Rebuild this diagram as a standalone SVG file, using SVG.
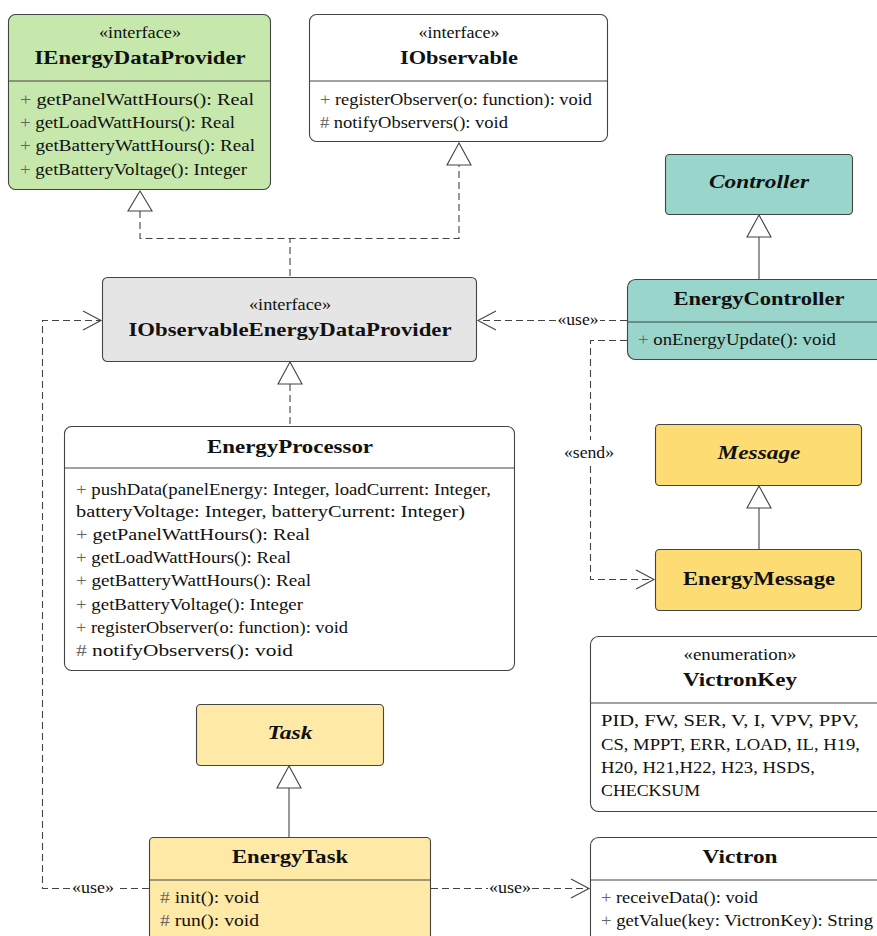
<svg xmlns="http://www.w3.org/2000/svg" width="877" height="936" viewBox="0 0 877 936" font-family="'Liberation Serif', 'Times New Roman', 'DejaVu Serif', serif">
  <style>
    text { fill: #111; }
    .box { stroke: #444; stroke-width: 1.1; }
    .div { stroke: #444; stroke-width: 1.1; }
    .st { font-size: 16px; text-anchor: middle; }
    .nm { font-size: 19px; font-weight: bold; text-anchor: middle; }
    .ab { font-size: 19px; font-weight: bold; font-style: italic; text-anchor: middle; }
    .mb { font-size: 16.5px; }
    .op { fill: #666; }
    .lbl { font-size: 16px; text-anchor: middle; }
    .dash { fill: none; stroke: #444; stroke-width: 1.1; stroke-dasharray: 7 4; }
    .solid { fill: none; stroke: #444; stroke-width: 1.1; }
    .tri { fill: #fff; stroke: #444; stroke-width: 1.1; }
    .open { fill: none; stroke: #444; stroke-width: 1.1; }
  </style>

  <g id="IEnergyDataProvider">
    <rect class="box" x="8.5" y="14.5" width="262" height="175" rx="7" fill="#c6e8ad"/>
    <line class="div" x1="8.5" y1="81" x2="270.5" y2="81"/>
    <text class="st" x="140" y="38" textLength="82" lengthAdjust="spacingAndGlyphs">«interface»</text>
    <text class="nm" x="140" y="64" textLength="211" lengthAdjust="spacingAndGlyphs">IEnergyDataProvider</text>
    <text class="mb" x="20" y="105" textLength="234" lengthAdjust="spacingAndGlyphs"><tspan class="op">+</tspan> getPanelWattHours(): Real</text>
    <text class="mb" x="20" y="128" textLength="215" lengthAdjust="spacingAndGlyphs"><tspan class="op">+</tspan> getLoadWattHours(): Real</text>
    <text class="mb" x="20" y="151" textLength="235" lengthAdjust="spacingAndGlyphs"><tspan class="op">+</tspan> getBatteryWattHours(): Real</text>
    <text class="mb" x="20" y="175" textLength="227" lengthAdjust="spacingAndGlyphs"><tspan class="op">+</tspan> getBatteryVoltage(): Integer</text>
  </g>

  <g id="IObservable">
    <rect class="box" x="309.5" y="14.5" width="298" height="127" rx="7" fill="#fff"/>
    <line class="div" x1="309.5" y1="81" x2="607.5" y2="81"/>
    <text class="st" x="459" y="38" textLength="81" lengthAdjust="spacingAndGlyphs">«interface»</text>
    <text class="nm" x="459" y="64" textLength="118" lengthAdjust="spacingAndGlyphs">IObservable</text>
    <text class="mb" x="320" y="105" textLength="272" lengthAdjust="spacingAndGlyphs"><tspan class="op">+</tspan> registerObserver(o: function): void</text>
    <text class="mb" x="320" y="128" textLength="188" lengthAdjust="spacingAndGlyphs"><tspan class="op">#</tspan> notifyObservers(): void</text>
  </g>

  <g id="IObservableEnergyDataProvider">
    <rect class="box" x="102.5" y="277.5" width="374" height="84" rx="5" fill="#e5e5e5"/>
    <text class="st" x="290" y="310" textLength="82" lengthAdjust="spacingAndGlyphs">«interface»</text>
    <text class="nm" x="290" y="336" textLength="323" lengthAdjust="spacingAndGlyphs">IObservableEnergyDataProvider</text>
  </g>

  <g id="EnergyProcessor">
    <rect class="box" x="64.5" y="426.5" width="450" height="244" rx="7" fill="#fff"/>
    <line class="div" x1="64.5" y1="468" x2="514.5" y2="468"/>
    <text class="nm" x="290" y="453" textLength="166" lengthAdjust="spacingAndGlyphs">EnergyProcessor</text>
    <text class="mb" x="76" y="495" textLength="415" lengthAdjust="spacingAndGlyphs"><tspan class="op">+</tspan> pushData(panelEnergy: Integer, loadCurrent: Integer,</text>
    <text class="mb" x="76" y="517" textLength="389" lengthAdjust="spacingAndGlyphs">batteryVoltage: Integer, batteryCurrent: Integer)</text>
    <text class="mb" x="76" y="540" textLength="234" lengthAdjust="spacingAndGlyphs"><tspan class="op">+</tspan> getPanelWattHours(): Real</text>
    <text class="mb" x="76" y="563" textLength="215" lengthAdjust="spacingAndGlyphs"><tspan class="op">+</tspan> getLoadWattHours(): Real</text>
    <text class="mb" x="76" y="586" textLength="235" lengthAdjust="spacingAndGlyphs"><tspan class="op">+</tspan> getBatteryWattHours(): Real</text>
    <text class="mb" x="76" y="610" textLength="227" lengthAdjust="spacingAndGlyphs"><tspan class="op">+</tspan> getBatteryVoltage(): Integer</text>
    <text class="mb" x="76" y="633" textLength="272" lengthAdjust="spacingAndGlyphs"><tspan class="op">+</tspan> registerObserver(o: function): void</text>
    <text class="mb" x="76" y="656" textLength="217" lengthAdjust="spacingAndGlyphs"><tspan class="op">#</tspan> notifyObservers(): void</text>
  </g>

  <g id="Controller">
    <rect class="box" x="665.5" y="154.5" width="187" height="60" rx="4" fill="#99d5ca"/>
    <text class="ab" x="759" y="188" textLength="100" lengthAdjust="spacingAndGlyphs">Controller</text>
  </g>

  <g id="EnergyController">
    <rect class="box" x="627.5" y="279.5" width="260" height="80" rx="8" fill="#99d5ca"/>
    <line class="div" x1="627.5" y1="322" x2="877" y2="322"/>
    <text class="nm" x="759" y="305" textLength="171" lengthAdjust="spacingAndGlyphs">EnergyController</text>
    <text class="mb" x="638" y="345" textLength="198" lengthAdjust="spacingAndGlyphs"><tspan class="op">+</tspan> onEnergyUpdate(): void</text>
  </g>

  <g id="Message">
    <rect class="box" x="655.5" y="424.5" width="206" height="61" rx="4" fill="#fddc74"/>
    <text class="ab" x="759" y="459" textLength="83" lengthAdjust="spacingAndGlyphs">Message</text>
  </g>

  <g id="EnergyMessage">
    <rect class="box" x="655.5" y="549.5" width="206" height="61" rx="4" fill="#fddc74"/>
    <text class="nm" x="759" y="585" textLength="152" lengthAdjust="spacingAndGlyphs">EnergyMessage</text>
  </g>

  <g id="VictronKey">
    <rect class="box" x="590.5" y="636.5" width="300" height="175" rx="8" fill="#fff"/>
    <line class="div" x1="590.5" y1="703" x2="877" y2="703"/>
    <text class="st" x="740" y="660" textLength="113" lengthAdjust="spacingAndGlyphs">«enumeration»</text>
    <text class="nm" x="740" y="686" textLength="114" lengthAdjust="spacingAndGlyphs">VictronKey</text>
    <text class="mb" x="601" y="726" textLength="258" lengthAdjust="spacingAndGlyphs">PID, FW, SER, V, I, VPV, PPV,</text>
    <text class="mb" x="601" y="750" textLength="259" lengthAdjust="spacingAndGlyphs">CS, MPPT, ERR, LOAD, IL, H19,</text>
    <text class="mb" x="601" y="773" textLength="214" lengthAdjust="spacingAndGlyphs">H20, H21,H22, H23, HSDS,</text>
    <text class="mb" x="601" y="796" textLength="99" lengthAdjust="spacingAndGlyphs">CHECKSUM</text>
  </g>

  <g id="Victron">
    <rect class="box" x="590.5" y="837.5" width="300" height="120" rx="8" fill="#fff"/>
    <line class="div" x1="590.5" y1="880" x2="877" y2="880"/>
    <text class="nm" x="740" y="863" textLength="75" lengthAdjust="spacingAndGlyphs">Victron</text>
    <text class="mb" x="601" y="903" textLength="157" lengthAdjust="spacingAndGlyphs"><tspan class="op">+</tspan> receiveData(): void</text>
    <text class="mb" x="601" y="926" textLength="272" lengthAdjust="spacingAndGlyphs"><tspan class="op">+</tspan> getValue(key: VictronKey): String</text>
  </g>

  <g id="Task">
    <rect class="box" x="196.5" y="704.5" width="187" height="61" rx="4" fill="#feeaa6"/>
    <text class="ab" x="290" y="739" textLength="45" lengthAdjust="spacingAndGlyphs">Task</text>
  </g>

  <g id="EnergyTask">
    <rect class="box" x="149.5" y="837.5" width="281" height="120" rx="4" fill="#feeaa6"/>
    <line class="div" x1="149.5" y1="880" x2="430.5" y2="880"/>
    <text class="nm" x="290" y="863" textLength="116" lengthAdjust="spacingAndGlyphs">EnergyTask</text>
    <text class="mb" x="160" y="903" textLength="99" lengthAdjust="spacingAndGlyphs"><tspan class="op">#</tspan> init(): void</text>
    <text class="mb" x="160" y="926" textLength="99" lengthAdjust="spacingAndGlyphs"><tspan class="op">#</tspan> run(): void</text>
  </g>

  <g id="connectors">
    <!-- realizations into IEnergyDataProvider and IObservable -->
    <path class="dash" d="M290,276 V238.5 M140,211 V238.5 H459 V165"/>
    <polygon class="tri" points="140,191 128,211 152,211"/>
    <polygon class="tri" points="459,143 447,165 471,165"/>

    <!-- EnergyProcessor realizes IObservableEnergyDataProvider -->
    <path class="dash" d="M290,384 V426"/>
    <polygon class="tri" points="290,362 278,384 302,384"/>

    <!-- EnergyController extends Controller -->
    <path class="solid" d="M759,237 V279"/>
    <polygon class="tri" points="759,215 747,237 771,237"/>

    <!-- EnergyMessage extends Message -->
    <path class="solid" d="M759,508 V549"/>
    <polygon class="tri" points="759,486 747,508 771,508"/>

    <!-- EnergyTask extends Task -->
    <path class="solid" d="M289,788 V837"/>
    <polygon class="tri" points="289,766 277,788 301,788"/>

    <!-- EnergyController uses IObservableEnergyDataProvider -->
    <path class="dash" d="M627,320.5 H600 M556,320.5 H478"/>
    <path class="open" d="M496,311 L478,320.5 L496,330"/>
    <text class="lbl" x="578" y="325" textLength="41" lengthAdjust="spacingAndGlyphs">«use»</text>

    <!-- EnergyController sends EnergyMessage -->
    <path class="dash" d="M627,340.5 H590.5 V440 M590.5,466 V579.5 H654"/>
    <path class="open" d="M636,570 L654,579.5 L636,589"/>
    <text class="lbl" x="589" y="458" textLength="50" lengthAdjust="spacingAndGlyphs">«send»</text>

    <!-- EnergyTask uses IObservableEnergyDataProvider -->
    <path class="dash" d="M149,888.5 H116 M70,888.5 H42.5 V320.5 H101"/>
    <path class="open" d="M83,311 L101,320.5 L83,330"/>
    <text class="lbl" x="93" y="893" textLength="42" lengthAdjust="spacingAndGlyphs">«use»</text>

    <!-- EnergyTask uses Victron -->
    <path class="dash" d="M431,888.5 H488 M532,888.5 H589"/>
    <path class="open" d="M571,879 L589,888.5 L571,898"/>
    <text class="lbl" x="510" y="893" textLength="42" lengthAdjust="spacingAndGlyphs">«use»</text>
  </g>
</svg>
